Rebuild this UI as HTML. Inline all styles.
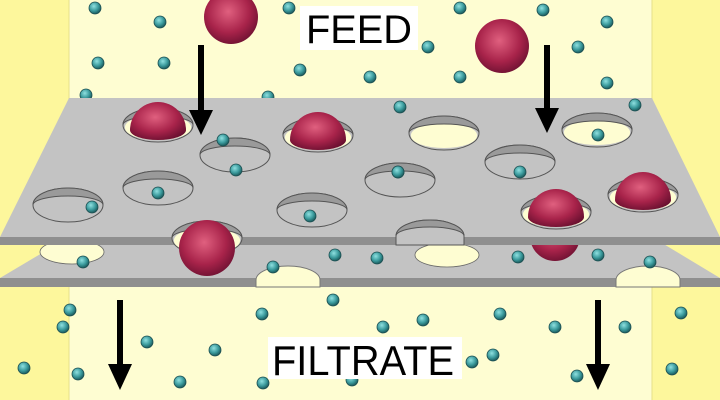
<!DOCTYPE html>
<html><head><style>html,body{margin:0;padding:0;background:#fff}svg{display:block}</style></head>
<body>
<svg width="720" height="400" viewBox="0 0 720 400" xmlns="http://www.w3.org/2000/svg">
<defs>
<radialGradient id="t" cx="40%" cy="35%" r="65%"><stop offset="0" stop-color="#8fe0e0"/><stop offset="0.6" stop-color="#3a9a9c"/><stop offset="1" stop-color="#1c5a5c"/></radialGradient>
<radialGradient id="r" cx="45%" cy="40%" r="65%"><stop offset="0" stop-color="#e0607f"/><stop offset="0.6" stop-color="#a8234a"/><stop offset="1" stop-color="#6a1030"/></radialGradient>
<g id="s"><circle r="6" fill="url(#t)" stroke="#1c4e50" stroke-width="0.8"/></g>
<g id="h"><ellipse rx="35" ry="17" fill="#c3c3c3" stroke="#555" stroke-width="1"/><path d="M-35,0 A35,17 0 0 1 35,0 A35,9 0 0 0 -35,0Z" fill="#9a9a9a" stroke="#555" stroke-width="1"/></g>
<g id="hy"><ellipse rx="35" ry="17" fill="#c3c3c3" stroke="#555" stroke-width="1"/><path d="M-33,2 A33,12 0 0 1 33,2 L33,3 A33,12 0 0 1 -33,3Z" fill="#fefdd2"/><path d="M-35,0 A35,17 0 0 1 35,0 A35,9 0 0 0 -35,0Z" fill="#9a9a9a" stroke="#555" stroke-width="1"/></g>
</defs>
<rect width="720" height="400" fill="#fefdd2"/>
<rect x="0" y="0" width="69" height="400" fill="#fdf79c"/>
<rect x="652" y="0" width="68" height="400" fill="#fdf79c"/>
<line x1="69" y1="0" x2="69" y2="400" stroke="#e6e08a"/>
<line x1="652" y1="0" x2="652" y2="400" stroke="#e6e08a"/>

<use href="#s" x="95" y="8"/><use href="#s" x="160" y="22"/><use href="#s" x="289" y="8"/><use href="#s" x="460" y="8"/><use href="#s" x="543" y="10"/><use href="#s" x="607" y="22"/>
<use href="#s" x="98" y="63"/><use href="#s" x="164" y="63"/><use href="#s" x="300" y="70"/><use href="#s" x="370" y="77"/><use href="#s" x="428" y="47"/><use href="#s" x="460" y="77"/><use href="#s" x="578" y="47"/><use href="#s" x="607" y="83"/><use href="#s" x="86" y="95"/><use href="#s" x="268" y="97"/>
<circle cx="231" cy="17" r="27" fill="url(#r)"/>
<circle cx="502" cy="46" r="27" fill="url(#r)"/>

<!-- bottom plate -->
<path d="M69,237 L652,237 L720,278 L0,278 Z" fill="#c3c3c3"/>
<rect x="0" y="278" width="720" height="9" fill="#8f8f8f"/>
<ellipse cx="72" cy="252" rx="32" ry="12" fill="#fefdd2" stroke="#666" stroke-width="0.8"/>
<ellipse cx="447" cy="255" rx="32" ry="12" fill="#fefdd2" stroke="#666" stroke-width="0.8"/>
<path d="M256,287 L256,280 A32,14 0 0 1 320,280 L320,287 Z" fill="#fefdd2" stroke="#777"/>
<path d="M616,287 L616,280 A32,14 0 0 1 680,280 L680,287 Z" fill="#fefdd2" stroke="#777"/>
<circle cx="555" cy="236" r="25" fill="url(#r)"/>
<use href="#s" x="335" y="255"/><use href="#s" x="377" y="258"/><use href="#s" x="273" y="267"/><use href="#s" x="518" y="257"/><use href="#s" x="650" y="262"/><use href="#s" x="83" y="262"/><use href="#s" x="598" y="255"/>

<!-- top plate -->
<path d="M69,98 L652,98 L720,237 L0,237 Z" fill="#c3c3c3"/>
<rect x="0" y="237" width="720" height="8" fill="#8f8f8f"/>
<path d="M396,245 L396,236 A34,16 0 0 1 464,236 L464,245 Z" fill="#c3c3c3" stroke="#555"/>
<path d="M396,236 A34,16 0 0 1 464,236 A34,9 0 0 0 396,236Z" fill="#9a9a9a" stroke="#555"/>
<use href="#hy" x="158" y="125"/>
<use href="#h" x="235" y="155"/>
<use href="#h" x="158" y="188"/>
<use href="#h" x="68" y="205"/>
<use href="#hy" x="318" y="135"/>
<use href="#h" x="312" y="210"/>
<use href="#hy" x="444" y="133"/>
<use href="#hy" x="597" y="130"/>
<use href="#h" x="520" y="162"/>
<use href="#h" x="400" y="180"/>
<use href="#hy" x="556" y="212"/>
<use href="#hy" x="643" y="195"/>
<use href="#hy" x="207" y="238"/>
<!-- domes -->
<path d="M130,130 A28,28 0 0 1 186,130 A28,10 0 0 1 130,130Z" fill="url(#r)"/>
<path d="M290,140 A28,28 0 0 1 346,140 A28,10 0 0 1 290,140Z" fill="url(#r)"/>
<path d="M528,217 A28,28 0 0 1 584,217 A28,10 0 0 1 528,217Z" fill="url(#r)"/>
<path d="M615,200 A28,28 0 0 1 671,200 A28,10 0 0 1 615,200Z" fill="url(#r)"/>
<circle cx="207" cy="248" r="28" fill="url(#r)"/>
<use href="#s" x="223" y="140"/><use href="#s" x="236" y="170"/><use href="#s" x="598" y="135"/><use href="#s" x="158" y="193"/><use href="#s" x="92" y="207"/><use href="#s" x="310" y="216"/><use href="#s" x="398" y="172"/><use href="#s" x="520" y="172"/><use href="#s" x="400" y="107"/><use href="#s" x="635" y="105"/><use href="#s" x="398" y="172"/>

<use href="#s" x="63" y="327"/><use href="#s" x="147" y="342"/><use href="#s" x="215" y="350"/><use href="#s" x="262" y="314"/><use href="#s" x="333" y="300"/><use href="#s" x="383" y="327"/><use href="#s" x="423" y="320"/><use href="#s" x="500" y="314"/><use href="#s" x="555" y="327"/><use href="#s" x="625" y="327"/><use href="#s" x="681" y="313"/><use href="#s" x="78" y="374"/><use href="#s" x="180" y="382"/><use href="#s" x="263" y="383"/><use href="#s" x="472" y="362"/><use href="#s" x="493" y="355"/><use href="#s" x="577" y="376"/><use href="#s" x="672" y="369"/><use href="#s" x="352" y="380"/><use href="#s" x="24" y="368"/><use href="#s" x="70" y="310"/>

<g fill="#000">
<rect x="198" y="45" width="6" height="70"/><path d="M189,110 L213,110 L201,135 Z"/>
<rect x="544" y="45" width="6" height="70"/><path d="M535,108 L559,108 L547,133 Z"/>
<rect x="117" y="300" width="6" height="70"/><path d="M108,364 L132,364 L120,390 Z"/>
<rect x="595" y="300" width="6" height="70"/><path d="M586,364 L610,364 L598,390 Z"/>
</g>
<rect x="300" y="6" width="118" height="44" fill="#fff"/>
<text x="359" y="43" text-anchor="middle" font-family="Liberation Sans, sans-serif" font-size="40" textLength="106" lengthAdjust="spacingAndGlyphs">FEED</text>
<rect x="268" y="337" width="194" height="42" fill="#fff"/>
<text x="363" y="375" text-anchor="middle" font-family="Liberation Sans, sans-serif" font-size="42" textLength="182" lengthAdjust="spacingAndGlyphs">FILTRATE</text>
</svg>
</body></html>
